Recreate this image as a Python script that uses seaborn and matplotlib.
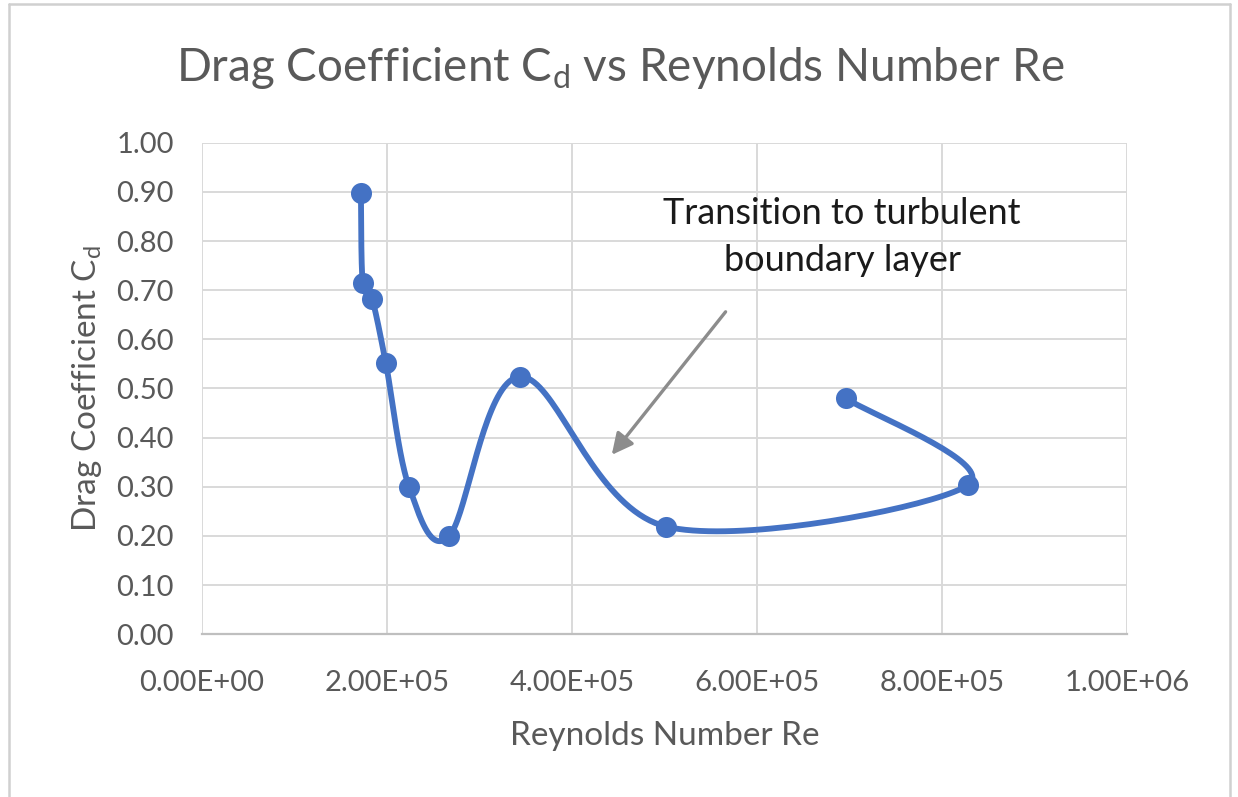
import numpy as np
import matplotlib
matplotlib.use("Agg")
import matplotlib.pyplot as plt
from matplotlib.ticker import FuncFormatter
from matplotlib.lines import Line2D
import seaborn as sns

# ---- Data (in plotting order) ----
reynolds = [1.72e5, 1.74e5, 1.84e5, 1.99e5, 2.24e5, 2.67e5, 3.44e5, 5.02e5, 8.28e5, 6.96e5]
drag_cd = [0.898, 0.714, 0.683, 0.551, 0.300, 0.199, 0.524, 0.219, 0.304, 0.480]

x_ticks = [0, 2e5, 4e5, 6e5, 8e5, 1e6]
y_ticks = [0.0, 0.1, 0.2, 0.3, 0.4, 0.5, 0.6, 0.7, 0.8, 0.9, 1.0]

BLUE = "#4472C4"
GREY_TXT = "#595959"
GRID = "#d9d9d9"

sns.set_style("white")
plt.rcParams["font.family"] = ["Lato", "DejaVu Sans"]
plt.rcParams["mathtext.default"] = "regular"


# ---- Excel-style smoothed line (bezier through the points, screen space) ----
def smooth_curve(xs, ys, sx, sy, n=40):
    P = np.column_stack([np.array(xs) * sx, np.array(ys) * sy])
    P_ext = np.vstack([P[0], P, P[-1]])
    out = []
    for i in range(len(P) - 1):
        p0, p1, p2, p3 = P_ext[i], P_ext[i + 1], P_ext[i + 2], P_ext[i + 3]
        c1 = p1 + (p2 - p0) / 6.0
        c2 = p2 - (p3 - p1) / 6.0
        t = np.linspace(0, 1, n)[:, None]
        seg = ((1 - t) ** 3) * p1 + 3 * ((1 - t) ** 2) * t * c1 + 3 * (1 - t) * t ** 2 * c2 + t ** 3 * p2
        out.append(seg if i == 0 else seg[1:])
    out = np.vstack(out)
    return out[:, 0] / sx, out[:, 1] / sy


fig = plt.figure(figsize=(12.38, 7.97), dpi=100)
ax = fig.add_axes([201.7 / 1238, 1 - 634.3 / 797, 925.6 / 1238, 491.6 / 797])

cx, cy = smooth_curve(reynolds, drag_cd, 925.6 / 1e6, 491.6)
sns.lineplot(x=cx, y=cy, sort=False, estimator=None, color=BLUE, linewidth=4.2, ax=ax, zorder=3)
sns.scatterplot(x=reynolds, y=drag_cd, color=BLUE, s=230, edgecolor=BLUE, linewidth=0, ax=ax, zorder=4)

# ---- Axes formatting ----
ax.set_xlim(0, 1e6)
ax.set_ylim(0, 1.0)
ax.set_xticks(x_ticks)
ax.set_yticks(y_ticks)
ax.xaxis.set_major_formatter(FuncFormatter(lambda v, p: f"{v:.2E}"))
ax.yaxis.set_major_formatter(FuncFormatter(lambda v, p: f"{v:.2f}"))
ax.grid(True, color=GRID, linewidth=1.4)
ax.set_axisbelow(True)
for side in ["top", "right", "left"]:
    ax.spines[side].set_visible(False)
ax.spines["bottom"].set_color("#bfbfbf")
ax.spines["bottom"].set_linewidth(1.6)
ax.tick_params(axis="both", length=0, labelsize=21, labelcolor=GREY_TXT)
ax.tick_params(axis="x", pad=26)
ax.tick_params(axis="y", pad=20)

ax.set_xlabel("Reynolds Number Re", fontsize=24, color=GREY_TXT, labelpad=18)
ax.set_ylabel("Drag Coefficient C$_d$", fontsize=24, color=GREY_TXT, labelpad=9)

fig.text(620 / 1238, 1 - 68 / 797, "Drag Coefficient C$_d$ vs Reynolds Number Re",
         fontsize=33, color=GREY_TXT, ha="center", va="center")

# ---- Annotation ----
ax.annotate("", xy=(4.43e5, 0.365), xytext=(5.66e5, 0.656),
            arrowprops=dict(arrowstyle="-|>", color="#8c8c8c", lw=2.4, mutation_scale=32,
                            shrinkA=0, shrinkB=0))
ax.text(6.92e5, 0.808, "Transition to turbulent\nboundary layer", fontsize=26,
        color="#1a1a1a", ha="center", va="center", linespacing=1.5)

# ---- Chart area border ----
for xs, ys in [([9, 9], [0, 793]), ([9, 1230], [793, 793]), ([1230, 1230], [0, 793])]:
    fig.add_artist(Line2D([x / 1238 for x in xs], [y / 797 for y in ys], color="#d0d0d0", linewidth=1.8))

fig.savefig("out.png", dpi=100)
